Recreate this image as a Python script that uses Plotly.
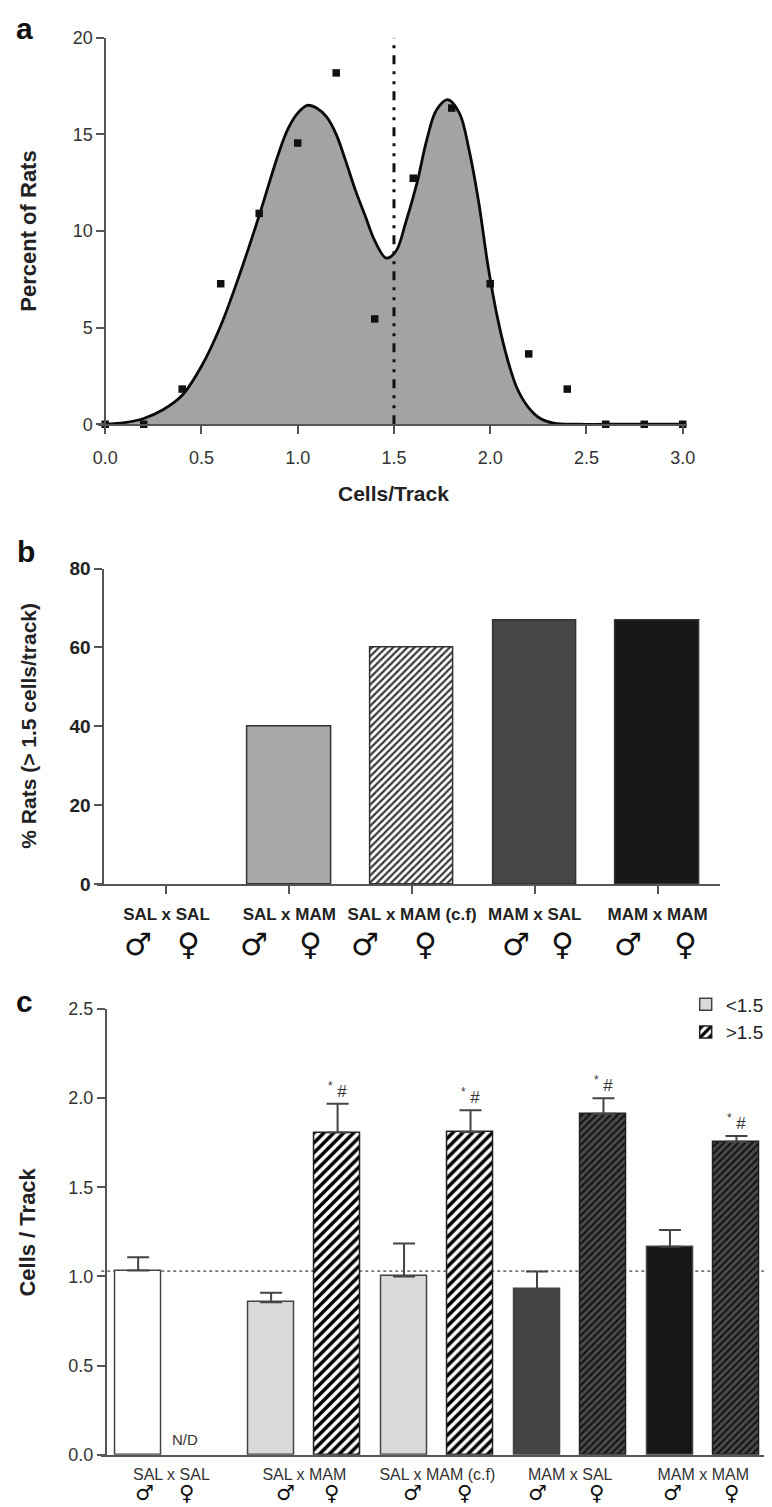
import plotly.graph_objects as go

W, H = 772, 1507

def fx(p):
    return p / W

def fy(p):
    return 1 - p / H

FONT = "Liberation Sans, Arial, Helvetica, sans-serif"
SYM_FONT = "DejaVu Sans, Liberation Sans, sans-serif"
AX = "#555555"

# ---------------- Panel a data ----------------
pts_x = [0.0, 0.2, 0.4, 0.6, 0.8, 1.0, 1.2, 1.4, 1.6, 1.8, 2.0, 2.2, 2.4, 2.6, 2.8, 3.0]
pts_pct = [0, 0, 1.82, 7.27, 10.91, 14.55, 18.18, 5.45, 12.73, 16.36, 7.27, 3.64, 1.82, 0, 0, 0]
fit_x = [0.0, 0.1, 0.2, 0.3, 0.4, 0.5, 0.6, 0.7, 0.8, 0.9, 0.95, 1.0, 1.05, 1.1, 1.15,
         1.2, 1.25, 1.3, 1.35, 1.4, 1.46, 1.51, 1.56, 1.62, 1.67, 1.72, 1.78, 1.84, 1.89,
         1.94, 1.99, 2.04, 2.09, 2.14, 2.20, 2.26, 2.33, 2.45, 2.6, 2.8, 3.0]
fit_pct = [0.0, 0.08, 0.3, 0.75, 1.5, 3.0, 5.1, 7.8, 10.8, 14.0, 15.3, 16.1, 16.5, 16.35, 15.9,
           15.0, 13.6, 12.1, 10.8, 9.5, 8.6, 8.95, 10.4, 12.5, 14.7, 16.25, 16.8, 16.1, 14.2,
           11.5, 8.1, 5.4, 3.35, 1.85, 0.85, 0.3, 0.06, 0.0, 0.0, 0.0, 0.0]
threshold = 1.5
a_xticks = [0.0, 0.5, 1.0, 1.5, 2.0, 2.5, 3.0]
a_yticks = [0, 5, 10, 15, 20]

# ---------------- Panel b data ----------------
groups = ["SAL x SAL", "SAL x MAM", "SAL x MAM (c.f)", "MAM x SAL", "MAM x MAM"]
pct_above = [0, 40, 60, 66.7, 66.7]
b_yticks = [0, 20, 40, 60, 80]

# ---------------- Panel c data ----------------
low_groups = ["SAL x MAM", "SAL x MAM (c.f)", "MAM x SAL", "MAM x MAM"]
salsal_mean = [1.033]
salsal_sem = [0.074]
low_mean = [0.855, 1.00, 0.928, 1.166]
low_sem = [0.053, 0.184, 0.100, 0.094]
high_mean = [1.807, 1.81, 1.913, 1.755]
high_sem = [0.162, 0.122, 0.087, 0.033]
baseline = 1.03
c_yticks = [0.0, 0.5, 1.0, 1.5, 2.0, 2.5]

fig = go.Figure()

# ---- panel a ----
fig.add_trace(go.Scatter(
    x=fit_x, y=fit_pct, mode="lines", xaxis="x", yaxis="y",
    line=dict(color="#0a0a0a", width=2.8, shape="spline", smoothing=1.0),
    fill="tozeroy", fillcolor="#a3a3a3", showlegend=False, cliponaxis=False,
    hoverinfo="skip"))
fig.add_trace(go.Scatter(
    x=pts_x, y=pts_pct, mode="markers", xaxis="x", yaxis="y",
    marker=dict(symbol="square", size=7.5, color="#111111"),
    showlegend=False, cliponaxis=False))

# ---- panel b ----
b_x = list(range(len(groups)))
fig.add_trace(go.Bar(
    x=b_x, y=pct_above, xaxis="x2", yaxis="y2", width=0.68, showlegend=False,
    marker=dict(
        color=["#ffffff", "#a9a9a9", "#383838", "#464646", "#181818"],
        line=dict(color="#333333", width=[0, 1.5, 1.5, 1.5, 1.5]),
        pattern=dict(shape=["", "", "/", "", ""],
                     fgcolor=["#ffffff", "#a9a9a9", "#383838", "#464646", "#181818"],
                     bgcolor=["#ffffff", "#a9a9a9", "#c4c4c4", "#464646", "#181818"],
                     size=5, solidity=0.45, fillmode="replace"))))

# ---- panel c ----
low_x = [2 * (groups.index(g)) for g in low_groups]
high_x = [2 * (groups.index(g)) + 1 for g in low_groups]
fig.add_trace(go.Bar(
    x=[0], y=salsal_mean, xaxis="x3", yaxis="y3", width=0.69, showlegend=False,
    marker=dict(color="#ffffff", line=dict(color="#444444", width=1.5)),
    error_y=dict(type="data", symmetric=False, array=salsal_sem, arrayminus=[0],
                 color="#444444", thickness=2, width=11)))
fig.add_trace(go.Bar(
    x=low_x, y=low_mean, xaxis="x3", yaxis="y3", width=0.69, name="<1.5",
    marker=dict(color=["#d9d9d9", "#d9d9d9", "#454545", "#161616"],
                line=dict(color="#444444", width=1.5)),
    error_y=dict(type="data", symmetric=False, array=low_sem, arrayminus=[0] * 4,
                 color="#444444", thickness=2, width=11)))
fig.add_trace(go.Bar(
    x=high_x, y=high_mean, xaxis="x3", yaxis="y3", width=0.69, name=">1.5",
    marker=dict(color="#ffffff",
                line=dict(color="#222222", width=1.5),
                pattern=dict(shape="/",
                             fgcolor=["#000000", "#000000", "#111111", "#111111"],
                             bgcolor=["#ffffff", "#ffffff", "#4a4a4a", "#4a4a4a"],
                             size=[7, 7, 5, 5], solidity=[0.5, 0.5, 0.4, 0.4],
                             fillmode="replace")),
    error_y=dict(type="data", symmetric=False, array=high_sem, arrayminus=[0] * 4,
                 color="#444444", thickness=2, width=11)))

shapes = [
    dict(type="line", xref="x", yref="y", x0=threshold, x1=threshold, y0=0, y1=20,
         line=dict(color="#111111", width=3, dash="9px,7px,3px,7px,3px,7px")),
    dict(type="line", xref="x3 domain", yref="y3", x0=0, x1=1, y0=baseline, y1=baseline,
         layer="below", line=dict(color="#777777", width=1.8, dash="dot")),
]

ann = []
def text(x, y, s, size, xref="paper", yref="paper", bold=False, angle=0, color="#222222",
         family=FONT, xanchor="center", yanchor="middle", xshift=0, yshift=0):
    ann.append(dict(x=x, y=y, xref=xref, yref=yref, text=("<b>%s</b>" % s) if bold else s,
                    showarrow=False, textangle=angle, xanchor=xanchor, yanchor=yanchor,
                    xshift=xshift, yshift=yshift,
                    font=dict(size=size, color=color, family=family)))

# panel letters
text(fx(11), fy(11), "a", 30, bold=True, color="#111")
text(fx(12), fy(541), "b", 30, bold=True, color="#111")
text(fx(11), fy(997), "c", 30, bold=True, color="#111")

# axis titles
text(1.5, fy(482), "Cells/Track", 21, xref="x", bold=True)
text(fx(15), fy(216), "Percent of Rats", 22, bold=True, angle=-90)
text(fx(15), fy(718), "% Rats (> 1.5 cells/track)", 21, bold=True, angle=-90)
text(fx(14), fy(1231), "Cells / Track", 22, bold=True, angle=-90)

# sex symbols panel b
b_male_shift = [-28, -35, -47, -19, -30]
b_female_shift = [22, 21, 14, 28, 28]
for i in range(len(groups)):
    text(b_x[i], fy(939), "\u2642", 31, xref="x2", bold=True, family=SYM_FONT,
         color="#111", xshift=b_male_shift[i])
    text(b_x[i], fy(939), "\u2640", 31, xref="x2", bold=True, family=SYM_FONT,
         color="#111", xshift=b_female_shift[i])

# sex symbols panel c
c_male_shift = [6, 14, 8, 0, 3]
c_female_shift = [-18, -6, -6, -7, -5]
for i in range(len(groups)):
    text(2 * i, fy(1496), "\u2642", 21, xref="x3", bold=True, family=SYM_FONT,
         color="#111", xshift=c_male_shift[i])
    text(2 * i + 1, fy(1496), "\u2640", 21, xref="x3", bold=True, family=SYM_FONT,
         color="#111", xshift=c_female_shift[i])

# N/D
text(1, 0, "N/D", 15, xref="x3", yref="y3", yanchor="bottom", xshift=-20, yshift=5,
     color="#333")

# significance marks
for xx, m, s in zip(high_x, high_mean, high_sem):
    text(xx, m + s, "<sup>*</sup> #", 17, xref="x3", yref="y3", yanchor="bottom",
         yshift=1, color="#333")

axis_common = dict(showgrid=False, zeroline=False, showline=True, linecolor=AX,
                   linewidth=1.6, tickcolor=AX, tickwidth=1.6, ticklen=8)

layout = dict(
    width=W, height=H, margin=dict(l=0, r=0, t=0, b=0),
    paper_bgcolor="white", plot_bgcolor="white",
    font=dict(family=FONT, color="#333333"),
    bargap=0, barmode="overlay",
    shapes=shapes, annotations=ann,
    legend=dict(x=fx(685), xanchor="left", y=fy(981), yanchor="top",
                font=dict(size=19, color="#222222", family=FONT),
                bgcolor="rgba(0,0,0,0)", tracegroupgap=0, itemwidth=30),
    # panel a
    xaxis=dict(domain=[fx(86), fx(686)], range=[-0.0357, 3.0204], anchor="y",
               tickvals=a_xticks, ticktext=["%.1f" % v for v in a_xticks], ticks="outside",
               tickfont=dict(size=18, color="#333"), ticklabelstandoff=8, **axis_common),
    yaxis=dict(domain=[fy(412), fy(20)], range=[0, 20], anchor="free", position=fx(93),
               tickvals=a_yticks, ticks="outside",
               tickfont=dict(size=18, color="#333"), **axis_common),
    # panel b
    xaxis2=dict(domain=[fx(85), fx(720)], range=[-0.563, 4.509], anchor="y2",
                tickvals=b_x, ticktext=["<b>%s</b>" % g for g in groups], ticks="outside",
                tickfont=dict(size=17, color="#222"), ticklabelstandoff=6, **axis_common),
    yaxis2=dict(domain=[fy(878.3), fy(558.3)], range=[0, 80], anchor="free", position=fx(91),
                tickvals=b_yticks, ticktext=["<b>%d</b>" % v for v in b_yticks],
                ticks="outside", tickfont=dict(size=19, color="#222"), **axis_common),
    # panel c
    xaxis3=dict(domain=[fx(89), 1.0], range=[-0.555, 9.52], anchor="y3",
                tickvals=[2 * i + 0.5 for i in range(len(groups))], ticktext=groups,
                ticks="", tickfont=dict(size=16, color="#333"), ticklabelstandoff=4,
                showgrid=False, zeroline=False, showline=True, linecolor=AX, linewidth=1.6),
    yaxis3=dict(domain=[fy(1457), fy(1005)], range=[0, 2.5], anchor="free", position=fx(93.5),
                tickvals=c_yticks, ticktext=["%.1f" % v for v in c_yticks], ticks="outside",
                tickfont=dict(size=18, color="#333"), **axis_common),
)
fig.update_layout(**layout)
fig.write_html("out.html")
